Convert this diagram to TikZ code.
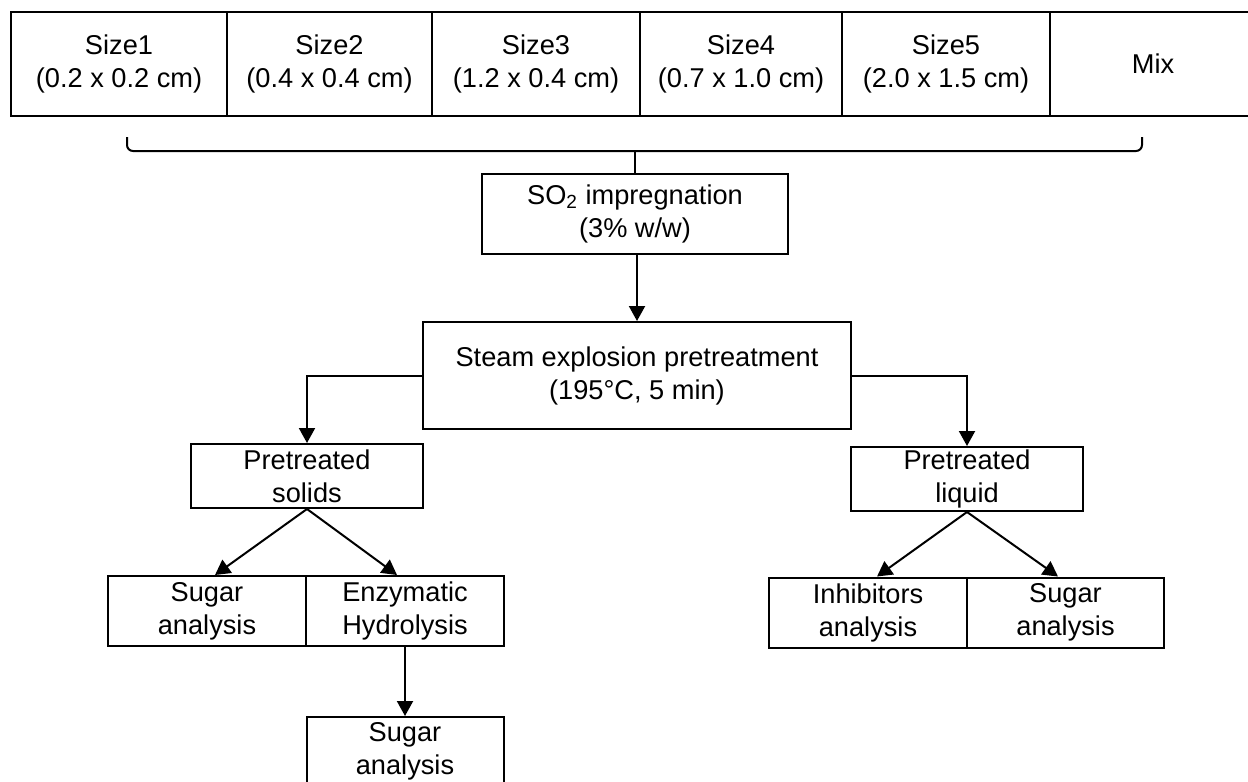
\documentclass[tikz,border=0pt]{standalone}
\usepackage{fontspec}
\setmainfont{Liberation Sans}
\usetikzlibrary{arrows.meta}

\begin{document}
\begin{tikzpicture}[x=0.5pt,y=-0.5pt,
  every node/.style={font=\fontsize{13.6}{16.5}\selectfont, align=center, inner sep=0pt},
  box/.style={draw, line width=1pt, rectangle},
  topbox/.style={box, minimum height=52pt},
  midbox/.style={box, minimum width=116pt, minimum height=32pt},
  leafbox/.style={box, minimum width=99pt, minimum height=35pt},
  arr/.style={line width=1pt, -{Triangle[width=8pt,length=7.5pt]}},
  brace/.style={line width=1pt, rounded corners=3pt}
]
\useasboundingbox (0,0) rectangle (1248,782);
\clip (0,0) rectangle (1248,782);

% particle size classes
\node[topbox, minimum width=108pt]   (s1)  at (119,64)   {Size1\\(0.2 x 0.2 cm)};
\node[topbox, minimum width=102.5pt] (s2)  at (329.5,64) {Size2\\(0.4 x 0.4 cm)};
\node[topbox, minimum width=104pt]   (s3)  at (536,64)   {Size3\\(1.2 x 0.4 cm)};
\node[topbox, minimum width=101pt]   (s4)  at (741,64)   {Size4\\(0.7 x 1.0 cm)};
\node[topbox, minimum width=104pt]   (s5)  at (946,64)   {Size5\\(2.0 x 1.5 cm)};
\node[topbox, minimum width=103pt]   (mix) at (1153,64)  {Mix};

% bracket gathering all sizes
\coordinate (bl) at (127,137);
\coordinate (br) at (1142,137);
\coordinate (bm) at (635,151);
\draw[brace] (bl) -- (127,151) -- (1142,151) -- (br);

% process steps
\node[box, minimum width=153pt, minimum height=40pt] (so2) at (635,214)
  {SO\textsubscript{2} impregnation\\(3\% w/w)};
\draw[line width=1pt] (bm) -- (so2.north);

\node[box, minimum width=214pt, minimum height=53.5pt] (steam) at (637,375.5)
  {Steam explosion pretreatment\\(195°C, 5 min)};
\draw[arr] (so2.south -| steam.north) -- (steam.north);

\node[midbox] (solids) at (307,476) {Pretreated\\solids};
\node[midbox] (liquid) at (967,479) {Pretreated\\liquid};
\draw[arr] (steam.west) -| (solids.north);
\draw[arr] (steam.east) -| (liquid.north);

% solid fraction
\node[leafbox] (sa1) at (207,611) {Sugar\\analysis};
\node[leafbox] (enz) at (405,611) {Enzymatic\\Hydrolysis};
\draw[arr] (solids.south) -- ([xshift=4pt]sa1.north);
\draw[arr] (solids.south) -- ([xshift=-4pt]enz.north);

\node[box, minimum width=98.5pt, minimum height=34pt] (sa2) at (405,751) {Sugar\\analysis};
\draw[arr] (enz.south) -- (sa2.north);

% liquid fraction
\node[leafbox] (inh) at (868,612.5) {Inhibitors\\analysis};
\node[box, minimum width=98.5pt, minimum height=35pt] (sa3) at (1065.5,612.5) {Sugar\\analysis};
\draw[arr] (liquid.south) -- ([xshift=4.5pt]inh.north);
\draw[arr] (liquid.south) -- ([xshift=-3.75pt]sa3.north);
\end{tikzpicture}
\end{document}
